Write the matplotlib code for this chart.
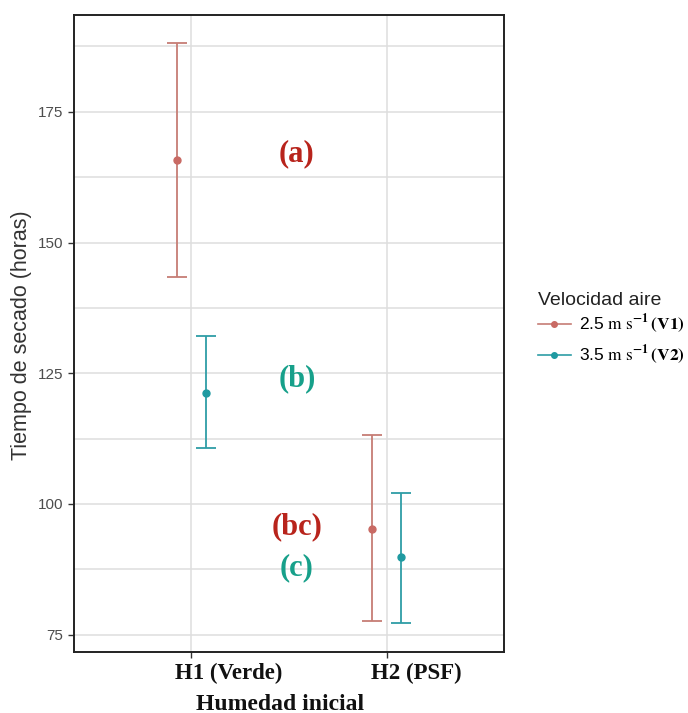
import matplotlib
matplotlib.use("Agg")
import matplotlib.pyplot as plt
from matplotlib.lines import Line2D
from matplotlib.ticker import MultipleLocator

plt.rcParams['mathtext.fontset'] = 'stix'
plt.rcParams['font.family'] = ['Liberation Sans', 'DejaVu Sans']

# ---- data ----
categories = ["H1 (Verde)", "H2 (PSF)"]
series_names = ["2.5 m s-1 (V1)", "3.5 m s-1 (V2)"]
v1_mean = [165.7, 95.2]
v1_low = [143.4, 77.6]
v1_high = [188.1, 113.2]
v2_mean = [121.2, 89.8]
v2_low = [110.8, 77.2]
v2_high = [132.1, 102.1]
letters = ["(a)", "(b)", "(bc)", "(c)"]
letter_y = [167.0, 124.0, 95.6, 87.9]
yticks = [75, 100, 125, 150, 175]

col_v1_line = "#C67D75"
col_v1_pt = "#C96A64"
col_v2_line = "#2E9DA6"
col_v2_pt = "#1F9AA1"
col_red_txt = "#B8241C"
col_teal_txt = "#17A08A"

fig = plt.figure(figsize=(6.88, 7.13), dpi=100)
ax = fig.add_axes([74/688, 61/713, 430/688, 637/713])

dodge = 0.075
xs = list(range(1, len(categories) + 1))

def draw(means, lows, highs, off, lc, pc):
    for x, m, lo, hi in zip(xs, means, lows, highs):
        ax.errorbar([x + off], [m], yerr=[[m - lo], [hi - m]], fmt='none',
                    ecolor=lc, elinewidth=1.3, capsize=7, capthick=1.3, zorder=3)
        ax.plot([x + off], [m], 'o', color=pc, markersize=5, zorder=4)

draw(v1_mean, v1_low, v1_high, -dodge, col_v1_line, col_v1_pt)
draw(v2_mean, v2_low, v2_high, dodge, col_v2_line, col_v2_pt)

ax.set_xlim(0.4, 2.6)
ax.set_ylim(71.7, 193.5)
ax.set_yticks(yticks)
ax.yaxis.set_minor_locator(MultipleLocator(12.5))
ax.set_xticks(xs)
ax.set_xticklabels([])

ax.grid(True, which='major', color='#DEDEDE', linewidth=1.1, zorder=0)
ax.grid(True, which='minor', axis='y', color='#DEDEDE', linewidth=1.1, zorder=0)
ax.set_axisbelow(True)
ax.tick_params(axis='both', which='major', length=4, width=1, color='#333333',
               labelsize=11, labelcolor='#4D4D4D')
ax.tick_params(axis='both', which='minor', length=0)
for s in ax.spines.values():
    s.set_color('#222222')
    s.set_linewidth(1.4)

# x tick labels (bold serif, left-offset)
for x, lab in zip(xs, categories):
    ax.annotate(lab, xy=(x, 0), xycoords=('data', 'axes fraction'),
                xytext=(-16, -11), textcoords='offset pixels', ha='left', va='top',
                fontsize=16.5, fontweight='bold', family='Liberation Serif', color='#111111')

fig.text(280/688, 1 - 704/713, "Humedad inicial", ha='center', va='center',
         fontsize=17, fontweight='bold', family='Liberation Serif', color='#111111')
fig.text(22/688, 1 - 335/713, "Tiempo de secado (horas)", rotation=90,
         ha='center', va='center', fontsize=15.5, color='#333333')

# letters
letter_cols = [col_red_txt, col_teal_txt, col_red_txt, col_teal_txt]
for t, y, c in zip(letters, letter_y, letter_cols):
    ax.text(1.54, y, t, ha='center', va='center', fontsize=22, fontweight='bold',
            family='Liberation Serif', color=c)

# legend
handles = [Line2D([], [], color=col_v1_line, marker='o', markerfacecolor=col_v1_pt,
                  markeredgecolor=col_v1_pt, markersize=4, linewidth=1.2),
           Line2D([], [], color=col_v2_line, marker='o', markerfacecolor=col_v2_pt,
                  markeredgecolor=col_v2_pt, markersize=4, linewidth=1.2)]
labels = [r"2.5 $\mathrm{m\ s^{\mathbf{-1}}}\,\mathbf{(V1)}$",
          r"3.5 $\mathrm{m\ s^{\mathbf{-1}}}\,\mathbf{(V2)}$"]
leg = fig.legend(handles, labels, title="Velocidad aire", loc='upper left',
                 bbox_to_anchor=(522/688, 1 - 276/713), frameon=False,
                 fontsize=12.5, title_fontsize=14, handlelength=1.9,
                 handletextpad=0.5, labelspacing=0.45, alignment='left')
leg.get_title().set_color('#222222')
leg._legend_box.sep = 3

fig.savefig("out.png", dpi=100, facecolor='white')
